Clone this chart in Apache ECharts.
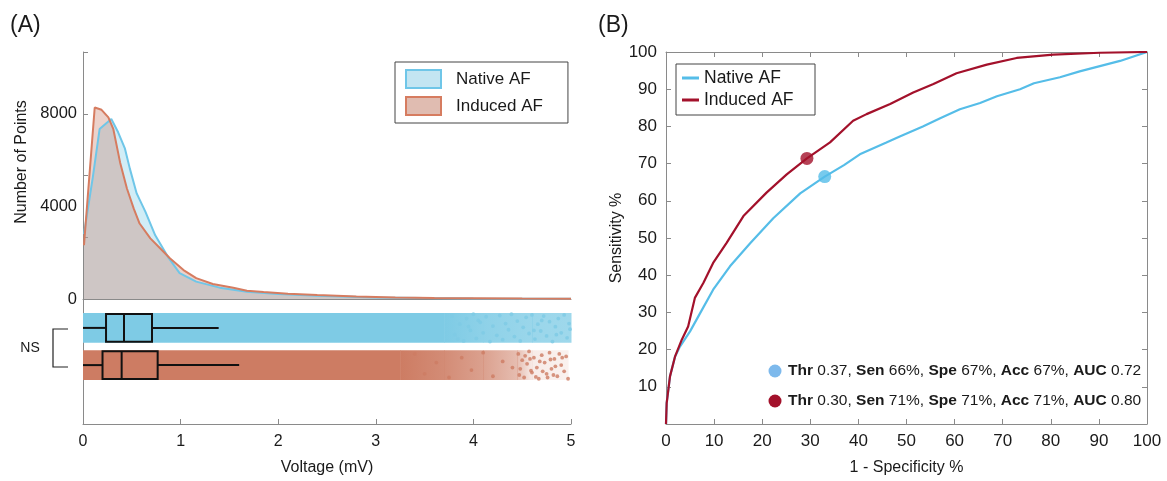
<!DOCTYPE html>
<html>
<head>
<meta charset="utf-8">
<script src="https://cdn.jsdelivr.net/npm/echarts@6/dist/echarts.min.js"></script>
<style>
  html, body { margin: 0; padding: 0; background: #fff; }
  #fig { width: 1167px; height: 481px; }
</style>
</head>
<body>
<div id="fig"></div>
<script>
// ---- (A) voltage distribution ----
var nativeVolt  = [0.01, 0.1, 0.17, 0.29, 0.36, 0.43, 0.48, 0.55, 0.64, 0.74, 0.87, 0.99, 1.16, 1.4, 1.68, 2.0, 2.4, 3.0, 3.5, 4.0, 4.5, 5.0];
var nativeCount = [2800, 5240, 7340, 7770, 7200, 6490, 5630, 4560, 3760, 2750, 1820, 1120, 750, 490, 310, 220, 140, 70, 40, 25, 15, 10];
var inducedVolt  = [0.01, 0.12, 0.19, 0.26, 0.31, 0.38, 0.45, 0.52, 0.58, 0.69, 0.79, 0.89, 1.03, 1.16, 1.33, 1.54, 1.68, 1.85, 2.1, 2.4, 2.8, 3.2, 3.6, 4.0, 4.5, 5.0];
var inducedCount = [2320, 8270, 8170, 7840, 7350, 5900, 4770, 3900, 3260, 2620, 2190, 1760, 1250, 900, 650, 490, 360, 300, 230, 170, 110, 60, 40, 30, 20, 15];

// strip of points: how much of the band is covered, [V, share]
var nativeCover  = [[0, 1], [3.7, 1], [4.1, 0.88], [4.6, 0.78], [5.0, 0.75]];
var inducedCover = [[0, 1], [3.25, 1], [3.7, 0.88], [4.1, 0.72], [4.45, 0.5], [4.6, 0.15], [4.97, 0.1]];
// loose points at the high end: [V, jitter]
var nativeDots = [[3.78,0.95],[3.81,-0.55],[3.84,-0.9],[3.86,0.3],[3.9,-1.05],[3.93,0.75],[3.95,0.1],[3.97,-0.2],[4.0,1.1],[4.03,-0.85],[4.05,0.6],
  [4.07,0.45],[4.1,-0.4],[4.13,0.9],[4.17,-1.1],[4.2,0.15],[4.24,-0.6],[4.27,1.0],[4.3,-0.95],[4.33,0.35],[4.36,-0.15],[4.39,1.1],[4.42,-0.7],
  [4.45,0.55],[4.48,-1.05],[4.51,0.05],[4.54,0.85],[4.57,-0.45],[4.6,1.05],[4.63,-0.9],[4.66,0.3],[4.69,-0.25],[4.72,0.95],[4.75,-0.65],
  [4.78,0.5],[4.81,-1.1],[4.84,0.1],[4.87,0.75],[4.9,-0.4],[4.93,1.05],[4.96,-0.8],[4.98,0.35],[4.99,-0.1],[4.62,-0.2],[4.85,-0.55],[4.7,0.6]];
var inducedDots = [[3.4,0.9],[3.5,-0.7],[3.62,0.2],[3.75,-1.0],[3.88,0.6],[3.98,-0.4],[4.1,1.0],[4.2,-0.9],[4.3,0.3],[4.4,-0.2],
  [4.46,0.9],[4.47,-0.8],[4.48,-0.3],[4.5,0.4],[4.52,-1.0],[4.53,0.75],[4.55,0.1],[4.57,1.1],[4.58,0.5],[4.59,-0.45],[4.6,-0.6],[4.62,0.6],
  [4.64,-0.95],[4.65,-0.2],[4.67,-1.1],[4.68,0.3],[4.7,0.8],[4.71,-0.5],[4.73,0.2],[4.75,-0.7],[4.76,-1.0],[4.78,1.0],[4.79,0.45],[4.8,-0.3],
  [4.82,-0.8],[4.83,0.5],[4.84,-0.1],[4.86,-0.9],[4.88,0.9],[4.9,0.0],[4.91,0.6],[4.93,-0.5],[4.95,0.7],[4.97,-1.1]];
// box: lower whisker, q1, median, q3, upper whisker (mV)
var nativeBox  = [0, 0.236, 0.42, 0.707, 1.39];
var inducedBox = [0, 0.2, 0.396, 0.765, 1.6];

// ---- (B) ROC curves (%) ----
var nativeFpr = [0, 0.14, 0.83, 1.87, 2.9, 5.0, 7.1, 9.8, 13.3, 17.5, 22.3, 27.9, 33.0, 37.0, 40.3, 45.7, 48.6, 53.4, 57.0, 61.1, 65.3, 68.8, 73.6, 76.5, 81.9, 86.0, 90.2, 94.4, 100];
var nativeTpr = [0, 5.6, 12.8, 18.1, 20.8, 24.9, 29.8, 36.1, 42.4, 48.6, 55.3, 62.0, 66.5, 69.6, 72.5, 75.6, 77.3, 80.0, 82.2, 84.6, 86.3, 88.1, 90.0, 91.6, 93.2, 94.8, 96.2, 97.6, 100];
var inducedFpr = [0, 0.14, 0.83, 1.87, 3.26, 4.6, 6.0, 7.76, 9.8, 12.6, 16.1, 20.9, 25.1, 29.3, 34.1, 38.9, 41.7, 46.6, 51.4, 55.6, 60.4, 66.7, 72.9, 80.5, 90.2, 100];
var inducedTpr = [0, 5.6, 12.8, 18.1, 22.6, 26.2, 33.9, 37.9, 43.3, 48.7, 55.9, 62.2, 67.1, 71.4, 75.7, 81.5, 83.3, 86.0, 89.1, 91.4, 94.3, 96.6, 98.4, 99.3, 99.8, 100];
var nativeCut  = [33.0, 66.5];
var inducedCut = [29.3, 71.4];
// Thr, Sen, Spe, Acc, AUC
var nativeStats  = ['0.37', '66%', '67%', '67%', '0.72'];
var inducedStats = ['0.30', '71%', '71%', '71%', '0.80'];

var FONT = 'Liberation Sans, Arial, Helvetica, sans-serif';
var AXIS_GREY = '#8a8a8a';
var INK = '#1a1a1a';
var NATIVE_ROW = 7.75, INDUCED_ROW = 4.75, HALF = 1.2;

function zip(a, b) {
    return a.map(function (v, i) { return [v, b[i]]; });
}

// one rect per pair of coverage points, faded left to right
function bandItem(cover, row, rgb) {
    var rgba = function (a) { return 'rgba(' + rgb.join(',') + ',' + a + ')'; };
    return function (params, api) {
        var i = params.dataIndex;
        if (i >= cover.length - 1) return null;
        var p0 = api.coord([cover[i][0], row + HALF]);
        var p1 = api.coord([cover[i + 1][0], row - HALF]);
        return {
            type: 'rect',
            shape: { x: p0[0], y: p0[1], width: p1[0] - p0[0] + 0.5, height: p1[1] - p0[1] },
            style: { fill: new echarts.graphic.LinearGradient(0, 0, 1, 0, [
                { offset: 0, color: rgba(cover[i][1]) },
                { offset: 1, color: rgba(cover[i + 1][1]) }
            ]) }
        };
    };
}

function boxItem(row) {
    return function (params, api) {
        var h = 1.12;
        var lo = api.coord([api.value(0), row]);
        var q1 = api.coord([api.value(1), row + h]);
        var q3 = api.coord([api.value(3), row - h]);
        var md = api.coord([api.value(2), row]);
        var hi = api.coord([api.value(4), row]);
        var ls = { stroke: '#111', lineWidth: 2, fill: 'none' };
        return {
            type: 'group',
            children: [
                { type: 'line', shape: { x1: lo[0], y1: lo[1], x2: q1[0], y2: lo[1] }, style: ls },
                { type: 'line', shape: { x1: q3[0], y1: hi[1], x2: hi[0], y2: hi[1] }, style: ls },
                { type: 'rect', shape: { x: q1[0], y: q1[1], width: q3[0] - q1[0], height: q3[1] - q1[1] }, style: ls },
                { type: 'line', shape: { x1: md[0], y1: q1[1], x2: md[0], y2: q3[1] }, style: ls }
            ]
        };
    };
}

function statText(s) {
    return '{b|Thr} ' + s[0] + ', {b|Sen} ' + s[1] + ', {b|Spe} ' + s[2] + ', {b|Acc} ' + s[3] + ', {b|AUC} ' + s[4];
}

var chart = echarts.init(document.getElementById('fig'), null, { renderer: 'canvas' });

var tickStyle = { show: true, inside: true, length: 5, lineStyle: { color: AXIS_GREY, width: 1 } };
var lineStyleAx = { show: true, onZero: false, lineStyle: { color: AXIS_GREY, width: 1 } };

chart.setOption({
    animation: false,
    backgroundColor: '#fff',
    textStyle: { fontFamily: FONT },
    grid: [
        { left: 83, top: 52, width: 488, height: 247 },   // density
        { left: 83, top: 300, width: 488, height: 124 },  // strip + box
        { left: 666, top: 52, width: 481, height: 372 }   // ROC
    ],
    xAxis: [
        { gridIndex: 0, type: 'value', min: 0, max: 5, axisLine: lineStyleAx, axisTick: { show: false }, axisLabel: { show: false }, splitLine: { show: false } },
        { gridIndex: 1, type: 'value', min: 0, max: 5, interval: 1, axisLine: lineStyleAx, axisTick: tickStyle,
          axisLabel: { color: INK, fontSize: 16, margin: 10 }, splitLine: { show: false },
          name: 'Voltage (mV)', nameLocation: 'middle', nameGap: 36, nameTextStyle: { color: INK, fontSize: 16 } },
        { gridIndex: 2, type: 'value', min: 0, max: 100, interval: 10, axisLine: lineStyleAx, axisTick: tickStyle,
          axisLabel: { color: INK, fontSize: 17, margin: 9 }, splitLine: { show: false },
          name: '1 - Specificity %', nameLocation: 'middle', nameGap: 36, nameTextStyle: { color: INK, fontSize: 16 } },
        { gridIndex: 2, type: 'value', position: 'top', min: 0, max: 100, interval: 10, axisLine: lineStyleAx, axisTick: tickStyle,
          axisLabel: { show: false }, splitLine: { show: false } }
    ],
    yAxis: [
        { gridIndex: 0, type: 'value', min: 0, max: 32000 / 3, interval: 8000 / 3, axisLine: lineStyleAx, axisTick: tickStyle,
          axisLabel: { show: false }, splitLine: { show: false } },
        { gridIndex: 0, type: 'value', position: 'left', min: 0, max: 32000 / 3, interval: 4000, axisLine: { show: false }, axisTick: { show: false },
          axisLabel: { color: INK, fontSize: 16.5, margin: 6, showMaxLabel: false, formatter: function (v) { return String(v); } },
          splitLine: { show: false } },
        { gridIndex: 1, type: 'value', min: 0, max: 10, axisLine: lineStyleAx, axisTick: { show: false }, axisLabel: { show: false }, splitLine: { show: false } },
        { gridIndex: 2, type: 'value', min: 0, max: 100, interval: 10, axisLine: lineStyleAx, axisTick: tickStyle,
          axisLabel: { color: INK, fontSize: 17, margin: 9, formatter: function (v) { return v === 0 ? '' : String(v); } }, splitLine: { show: false },
          name: 'Sensitivity %', nameLocation: 'middle', nameGap: 33, nameTextStyle: { color: INK, fontSize: 16 } },
        { gridIndex: 2, type: 'value', position: 'right', min: 0, max: 100, interval: 10, axisLine: lineStyleAx, axisTick: tickStyle,
          axisLabel: { show: false }, splitLine: { show: false } }
    ],
    legend: [
        {
            left: 395, top: 62, orient: 'vertical', padding: [7, 25, 7, 10], itemWidth: 35, itemHeight: 18, itemGap: 7,
            borderColor: '#444', borderWidth: 1, selectedMode: false,
            textStyle: { fontSize: 17, color: INK, padding: [0, 0, 0, 10] },
            data: [
                { name: 'Native AF', icon: 'rect', itemStyle: { color: '#c3e5f2', borderColor: '#6fc6e8', borderWidth: 2 } },
                { name: 'Induced AF', icon: 'rect', itemStyle: { color: '#e0bcb1', borderColor: '#d67c60', borderWidth: 2 } }
            ]
        },
        {
            left: 676, top: 64, orient: 'vertical', padding: [5, 8, 6, 6], itemWidth: 17, itemHeight: 3, itemGap: 4,
            borderColor: '#444', borderWidth: 1, selectedMode: false,
            textStyle: { fontSize: 17.5, color: INK, width: 103, lineHeight: 18 },
            data: [
                { name: 'Native AF', icon: 'rect', itemStyle: { color: '#55bde8', borderWidth: 0 } },
                { name: 'Induced AF', icon: 'rect', itemStyle: { color: '#a3112b', borderWidth: 0 } }
            ]
        }
    ],
    series: [
        // density
        { name: 'Native AF', type: 'line', xAxisIndex: 0, yAxisIndex: 0, data: zip(nativeVolt, nativeCount), showSymbol: false,
          lineStyle: { color: '#6fc6e8', width: 2 }, itemStyle: { color: '#6fc6e8' }, areaStyle: { color: 'rgba(125,203,230,0.5)' } },
        { name: 'Induced AF', type: 'line', xAxisIndex: 0, yAxisIndex: 0, data: zip(inducedVolt, inducedCount), showSymbol: false,
          lineStyle: { color: '#d67c60', width: 2 }, itemStyle: { color: '#d67c60' }, areaStyle: { color: 'rgba(200,128,108,0.5)' } },
        // strip bands
        { type: 'custom', xAxisIndex: 1, yAxisIndex: 2, data: nativeCover, renderItem: bandItem(nativeCover, NATIVE_ROW, [126, 203, 229]), silent: true },
        { type: 'custom', xAxisIndex: 1, yAxisIndex: 2, data: inducedCover, renderItem: bandItem(inducedCover, INDUCED_ROW, [205, 124, 99]), silent: true },
        { type: 'scatter', xAxisIndex: 1, yAxisIndex: 2, symbolSize: 3.8, itemStyle: { color: '#7ecbe5' }, silent: true,
          data: nativeDots.map(function (d) { return [d[0], NATIVE_ROW + d[1]]; }) },
        { type: 'scatter', xAxisIndex: 1, yAxisIndex: 2, symbolSize: 3.8, itemStyle: { color: '#cd7c63' }, silent: true,
          data: inducedDots.map(function (d) { return [d[0], INDUCED_ROW + d[1]]; }) },
        // boxes
        { type: 'custom', xAxisIndex: 1, yAxisIndex: 2, data: [nativeBox], renderItem: boxItem(NATIVE_ROW), silent: true, z: 5 },
        { type: 'custom', xAxisIndex: 1, yAxisIndex: 2, data: [inducedBox], renderItem: boxItem(INDUCED_ROW), silent: true, z: 5 },
        // ROC
        { name: 'Native AF', type: 'line', xAxisIndex: 2, yAxisIndex: 3, data: zip(nativeFpr, nativeTpr), showSymbol: false,
          lineStyle: { color: '#55bde8', width: 2.2 }, itemStyle: { color: '#55bde8' } },
        { name: 'Induced AF', type: 'line', xAxisIndex: 2, yAxisIndex: 3, data: zip(inducedFpr, inducedTpr), showSymbol: false,
          lineStyle: { color: '#a3112b', width: 2.2 }, itemStyle: { color: '#a3112b' } },
        { type: 'scatter', xAxisIndex: 2, yAxisIndex: 3, symbolSize: 13, data: [nativeCut], itemStyle: { color: '#55bde8' }, z: 6 },
        { type: 'scatter', xAxisIndex: 2, yAxisIndex: 3, symbolSize: 13, data: [inducedCut], itemStyle: { color: '#a3112b' }, z: 6 }
    ],
    graphic: [
        { type: 'text', x: 10, y: 14, style: { text: '(A)', font: '23px ' + FONT, fill: INK } },
        { type: 'text', x: 598, y: 14, style: { text: '(B)', font: '23px ' + FONT, fill: INK } },
        { type: 'text', x: 22, y: 162, rotation: Math.PI / 2,
          style: { text: 'Number of Points', font: '16px ' + FONT, fill: INK, align: 'center', verticalAlign: 'middle' } },
        { type: 'polyline', shape: { points: [[68, 329], [53, 329], [53, 367], [68, 367]] }, style: { stroke: '#222', lineWidth: 1.2, fill: 'none' } },
        { type: 'text', x: 30, y: 348, style: { text: 'NS', font: '14px ' + FONT, fill: INK, align: 'center', verticalAlign: 'middle' } },
        { type: 'circle', shape: { cx: 775, cy: 371, r: 6.5 }, style: { fill: '#7db9ec' } },
        { type: 'circle', shape: { cx: 775, cy: 401, r: 6.5 }, style: { fill: '#a3112b' } },
        { type: 'text', x: 788, y: 371, style: { text: statText(nativeStats), font: '15.5px ' + FONT, fill: INK, verticalAlign: 'middle',
          rich: { b: { fontWeight: 'bold', fontSize: 15.5, fontFamily: FONT, fill: INK } } } },
        { type: 'text', x: 788, y: 401, style: { text: statText(inducedStats), font: '15.5px ' + FONT, fill: INK, verticalAlign: 'middle',
          rich: { b: { fontWeight: 'bold', fontSize: 15.5, fontFamily: FONT, fill: INK } } } }
    ]
});
</script>
</body>
</html>
